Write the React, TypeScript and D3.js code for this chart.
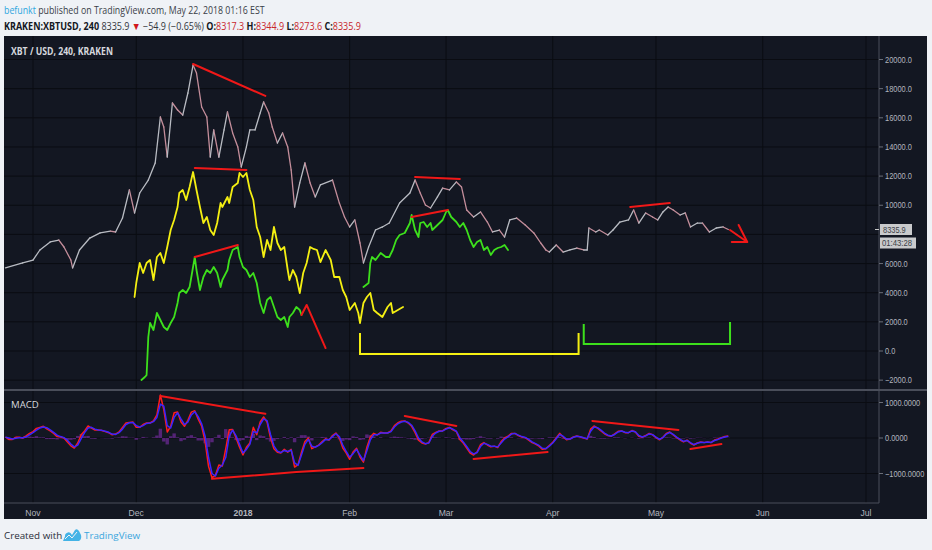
import React, { useLayoutEffect, useRef, useState } from 'react';
import * as d3 from 'd3';

const parse = d3.timeParse('%Y-%m-%d %H');

// XBT/USD 4h closes
const priceSeries: [string, number][] = [
  ['2017-10-24 00', 5700], ['2017-10-29 00', 6040], ['2017-11-01 00', 6240], ['2017-11-03 00', 6930],
  ['2017-11-06 00', 7480], ['2017-11-08 12', 7615], ['2017-11-10 00', 7135], ['2017-11-12 00', 6240],
  ['2017-11-12 12', 5700], ['2017-11-14 12', 6930], ['2017-11-17 12', 7750], ['2017-11-20 12', 8100],
  ['2017-11-23 12', 8230], ['2017-11-25 00', 8165], ['2017-11-27 00', 9125], ['2017-11-29 00', 11050],
  ['2017-11-30 12', 9470], ['2017-12-02 00', 10840], ['2017-12-04 12', 11730], ['2017-12-06 12', 12900],
  ['2017-12-08 00', 16055], ['2017-12-09 00', 15370], ['2017-12-10 00', 13310], ['2017-12-11 12', 17015],
  ['2017-12-13 00', 16535], ['2017-12-14 12', 16190], ['2017-12-16 00', 17700], ['2017-12-17 12', 19620],
  ['2017-12-18 12', 19070], ['2017-12-20 00', 16740], ['2017-12-21 12', 16055], ['2017-12-22 12', 13310],
  ['2017-12-23 12', 15165], ['2017-12-25 00', 13310], ['2017-12-26 12', 15165], ['2017-12-27 12', 16400],
  ['2017-12-29 00', 14960], ['2017-12-30 12', 14000], ['2017-12-31 12', 12625], ['2018-01-02 00', 14000],
  ['2018-01-03 00', 15165], ['2018-01-04 12', 15165], ['2018-01-06 00', 16330], ['2018-01-07 00', 17085],
  ['2018-01-08 12', 16330], ['2018-01-09 12', 15370], ['2018-01-11 00', 14270], ['2018-01-12 12', 14960],
  ['2018-01-14 00', 14000], ['2018-01-15 00', 12420], ['2018-01-16 00', 9880], ['2018-01-17 12', 11530],
  ['2018-01-19 00', 12900], ['2018-01-20 12', 11530], ['2018-01-22 00', 10570], ['2018-01-23 12', 11400],
  ['2018-01-27 00', 11730], ['2018-01-29 00', 10150], ['2018-01-30 12', 9195], ['2018-02-01 00', 8510],
  ['2018-02-02 12', 8990], ['2018-02-04 00', 7410], ['2018-02-05 00', 6040], ['2018-02-06 12', 7135],
  ['2018-02-08 12', 8300], ['2018-02-10 12', 8510], ['2018-02-12 12', 8780], ['2018-02-15 12', 10150],
  ['2018-02-18 12', 10840], ['2018-02-20 00', 11730], ['2018-02-21 12', 10840], ['2018-02-23 00', 10020],
  ['2018-02-24 12', 9810], ['2018-02-26 12', 10570], ['2018-02-28 00', 11180], ['2018-03-02 00', 11050],
  ['2018-03-04 00', 11600], ['2018-03-05 12', 11250], ['2018-03-07 00', 9670], ['2018-03-09 00', 9195],
  ['2018-03-11 00', 9540], ['2018-03-13 00', 8850], ['2018-03-14 12', 8165], ['2018-03-16 12', 8300],
  ['2018-03-18 00', 7820], ['2018-03-19 12', 8990], ['2018-03-21 12', 9125], ['2018-03-24 00', 8645],
  ['2018-03-26 12', 8100], ['2018-03-28 12', 7410], ['2018-03-30 00', 6930], ['2018-03-31 00', 6790],
  ['2018-04-02 00', 7270], ['2018-04-04 00', 6790], ['2018-04-06 00', 6930], ['2018-04-08 00', 7065],
  ['2018-04-10 00', 6930], ['2018-04-11 00', 6930], ['2018-04-11 12', 8440], ['2018-04-13 12', 8165],
  ['2018-04-14 12', 8300], ['2018-04-17 00', 7960], ['2018-04-18 12', 8300], ['2018-04-20 12', 8850],
  ['2018-04-23 00', 8990], ['2018-04-24 12', 9670], ['2018-04-26 00', 8780], ['2018-04-28 00', 9470],
  ['2018-04-30 00', 9195], ['2018-05-01 12', 8990], ['2018-05-03 00', 9540], ['2018-05-04 12', 9880],
  ['2018-05-06 00', 9670], ['2018-05-08 00', 9330], ['2018-05-09 12', 9470], ['2018-05-11 00', 8510],
  ['2018-05-13 00', 8780], ['2018-05-14 12', 8780], ['2018-05-16 12', 8165], ['2018-05-18 12', 8440],
  ['2018-05-20 12', 8510], ['2018-05-22 00', 8336],
];

// hand drawn fractal copies
const yellowCopy: [string, number][] = [
  ['2017-11-30 12', 3705], ['2017-12-01 00', 4665], ['2017-12-02 00', 6038], ['2017-12-03 00', 5352],
  ['2017-12-04 00', 6038], ['2017-12-05 00', 6243], ['2017-12-06 00', 4871], ['2017-12-07 00', 6449],
  ['2017-12-08 00', 6724], ['2017-12-09 00', 6038], ['2017-12-10 00', 7135], ['2017-12-11 00', 8302],
  ['2017-12-12 00', 8988], ['2017-12-13 00', 9880], ['2017-12-13 12', 10840], ['2017-12-14 12', 11046],
  ['2017-12-15 12', 10360], ['2017-12-16 12', 11252], ['2017-12-17 12', 12281], ['2017-12-18 12', 11046],
  ['2017-12-19 12', 9880], ['2017-12-20 12', 8782], ['2017-12-21 12', 9194], ['2017-12-22 12', 8302],
  ['2017-12-23 12', 7959], ['2017-12-24 12', 8782], ['2017-12-25 12', 10154], ['2017-12-26 00', 9880],
  ['2017-12-27 12', 10566], ['2017-12-28 00', 10154], ['2017-12-29 00', 11252], ['2017-12-30 12', 11526],
  ['2017-12-31 00', 12213], ['2018-01-01 00', 11938], ['2018-01-02 00', 12213], ['2018-01-03 00', 11046],
  ['2018-01-04 00', 10360], ['2018-01-05 00', 8508], ['2018-01-06 00', 7822], ['2018-01-07 00', 6449],
  ['2018-01-08 00', 7616], ['2018-01-09 00', 6930], ['2018-01-10 00', 8508], ['2018-01-11 00', 7410],
  ['2018-01-12 00', 6930], ['2018-01-13 00', 7135], ['2018-01-14 00', 5557], ['2018-01-14 12', 4871],
  ['2018-01-15 12', 5557], ['2018-01-16 12', 5077], ['2018-01-17 12', 3979], ['2018-01-18 12', 5352],
  ['2018-01-19 12', 6038], ['2018-01-20 12', 7135], ['2018-01-21 12', 7000], ['2018-01-22 12', 6930],
  ['2018-01-23 12', 6100], ['2018-01-25 00', 6930], ['2018-01-26 12', 6243], ['2018-01-27 12', 5077],
  ['2018-01-29 00', 5077], ['2018-01-30 00', 4185], ['2018-01-31 00', 3705], ['2018-02-01 00', 2813],
  ['2018-02-02 12', 3293], ['2018-02-03 12', 2607], ['2018-02-04 00', 1921], ['2018-02-05 00', 3293],
  ['2018-02-06 00', 3705], ['2018-02-07 00', 3979], ['2018-02-08 00', 2813], ['2018-02-09 00', 2607],
  ['2018-02-10 12', 2333], ['2018-02-12 00', 3019], ['2018-02-13 00', 3293], ['2018-02-13 12', 2607],
  ['2018-02-15 00', 2813], ['2018-02-16 12', 3019],
];

const greenCopyDec: [string, number][] = [
  ['2017-12-02 12', -1990], ['2017-12-03 12', -1784], ['2017-12-04 00', -1650], ['2017-12-04 12', 960],
  ['2017-12-05 00', 1921], ['2017-12-06 00', 1441], ['2017-12-07 00', 2607], ['2017-12-08 00', 2127],
  ['2017-12-09 00', 1647], ['2017-12-10 00', 1441], ['2017-12-11 00', 1921], ['2017-12-12 00', 2333],
  ['2017-12-13 00', 3293], ['2017-12-13 12', 3979], ['2017-12-14 12', 4185], ['2017-12-15 12', 3979],
  ['2017-12-16 12', 4391], ['2017-12-18 00', 6449], ['2017-12-18 12', 5557], ['2017-12-19 12', 4185],
  ['2017-12-20 12', 5077], ['2017-12-21 12', 5557], ['2017-12-22 12', 5352], ['2017-12-23 12', 5763],
  ['2017-12-24 12', 5352], ['2017-12-25 12', 4391], ['2017-12-26 00', 4871], ['2017-12-27 12', 5557],
  ['2017-12-28 00', 6243], ['2017-12-29 00', 6930], ['2017-12-30 12', 7135], ['2017-12-31 00', 6449],
  ['2018-01-01 00', 5763], ['2018-01-02 00', 5557], ['2018-01-03 00', 5077], ['2018-01-04 00', 5352],
  ['2018-01-05 00', 4665], ['2018-01-06 00', 3293], ['2018-01-07 00', 2607], ['2018-01-08 00', 3499],
  ['2018-01-09 00', 3705], ['2018-01-10 00', 3019], ['2018-01-11 00', 2333], ['2018-01-12 00', 2127],
  ['2018-01-13 00', 2333], ['2018-01-14 00', 1647], ['2018-01-14 12', 2333], ['2018-01-15 12', 2607],
  ['2018-01-16 12', 3019], ['2018-01-17 12', 2813], ['2018-01-18 00', 2470],
];

const greenCopyFeb: [string, number][] = [
  ['2018-02-05 00', 4391], ['2018-02-06 12', 4665], ['2018-02-07 00', 6038], ['2018-02-07 12', 6449],
  ['2018-02-08 12', 6243], ['2018-02-10 00', 6724], ['2018-02-11 12', 6449], ['2018-02-12 12', 6449],
  ['2018-02-13 12', 6930], ['2018-02-14 12', 7616], ['2018-02-15 12', 7959], ['2018-02-17 00', 8096],
  ['2018-02-18 12', 8782], ['2018-02-19 00', 9331], ['2018-02-20 00', 8302], ['2018-02-21 00', 7822],
  ['2018-02-21 12', 8782], ['2018-02-22 12', 8851], ['2018-02-23 12', 8508], ['2018-02-24 12', 8782],
  ['2018-02-25 00', 8302], ['2018-02-26 12', 8645], ['2018-02-28 00', 8988], ['2018-03-01 00', 9537],
  ['2018-03-01 12', 9674], ['2018-03-02 12', 9194], ['2018-03-04 00', 8851], ['2018-03-05 00', 8508],
  ['2018-03-06 00', 8782], ['2018-03-07 00', 8302], ['2018-03-08 00', 7616], ['2018-03-09 00', 7135],
  ['2018-03-10 00', 7478], ['2018-03-11 00', 7616], ['2018-03-12 00', 6930], ['2018-03-13 00', 7135],
  ['2018-03-14 00', 6587], ['2018-03-15 00', 6930], ['2018-03-16 00', 7067], ['2018-03-17 00', 7135],
  ['2018-03-18 00', 7273], ['2018-03-19 00', 6930],
];

// MACD, one value per day starting macdStart
const macdStart = '2017-10-24 00';
const macdLine = [
  28, -40, -40, 20, 20, 0, 60, 130,
  180, 270, 300, 330, 260, 200, 130, 40, 28, 0,
  -113, -220, -282, -141, 90, 200, 338, 280, 225, 225,
  210, 180, 150, 90, 110, 169, 300, 423, 440, 451,
  300, 300, 380, 423, 423, 480, 650, 1211, 800, 169,
  330, 710, 730, 450, 330, 500, 730, 770, 530, 330,
  -100, -800, -1120, -1050, -760, -790, -300, 230, 240, 0,
  -260, -479, -260, -141, 300, 90, 451, 592, 451, 0,
  -300, -400, -420, -320, -400, -320, -820, -750, -400, -100,
  0, -300, -250, -200, -100, -20, -60, 70, 141, 0,
  -282, -423, -600, -394, -290, -535, -680, -260, 28, 130,
  85, 160, 141, 141, 200, 350, 430, 470, 480, 423,
  330, 150, -60, -141, -170, -130, 100, 160, 200, 200,
  270, 300, 230, 180, -40, -141, -282, -423, -479, -394,
  -190, -130, -197, -250, -230, -270, -100, 0, 50, 130,
  130, 70, 28, 10, -60, -130, -170, -230, -320, -300,
  -210, -120, 0, 130, 28, -50, -28, 28, 56, 28,
  0, -28, 250, 340, 280, 200, 120, 70, 50, 120,
  190, 200, 150, 150, 210, 170, 50, 20, 70, 130,
  90, 10, -50, 20, 130, 169, 85, 10, -56, -110,
  -60, -150, -197, -141, -113, -130, -113, -130, -56, -30,
  10, 40, 56,
];
const signalLine = [
  20, 0, -30, -10, 10, 10, 30, 90,
  150, 220, 280, 310, 290, 230, 160, 80, 40, 10,
  -60, -170, -250, -200, -20, 150, 280, 300, 250, 225,
  215, 190, 160, 110, 100, 150, 250, 380, 430, 440,
  350, 310, 350, 410, 420, 460, 580, 950, 900, 350,
  280, 580, 710, 540, 380, 450, 650, 740, 600, 400,
  50, -550, -1000, -1070, -850, -760, -550, 50, 220, 60,
  -180, -420, -320, -180, 180, 150, 380, 540, 490, 100,
  -220, -370, -410, -350, -380, -340, -700, -770, -480, -180,
  -40, -230, -260, -210, -130, -40, -50, 40, 120, 40,
  -200, -380, -540, -440, -320, -480, -640, -360, -50, 90,
  90, 140, 140, 140, 180, 310, 400, 450, 470, 440,
  360, 200, 0, -110, -160, -140, 50, 140, 190, 200,
  250, 290, 250, 190, 10, -110, -240, -380, -450, -410,
  -240, -150, -180, -230, -230, -250, -140, -30, 30, 110,
  130, 80, 40, 15, -40, -110, -160, -210, -290, -300,
  -230, -140, -20, 100, 50, -30, -30, 20, 50, 35,
  5, -20, 190, 310, 290, 220, 140, 80, 55, 100,
  170, 195, 160, 150, 200, 175, 70, 30, 60, 115,
  95, 25, -35, 10, 110, 155, 100, 25, -40, -95,
  -70, -130, -185, -150, -120, -125, -115, -125, -70, -40,
  0, 30, 50,
];

// annotations drawn by the author
const priceRedLines: [string, number][][] = [
  [['2017-12-17 12', 19690], ['2018-01-07 12', 17500]],
  [['2017-12-18 00', 12550], ['2018-01-02 00', 12420]],
  [['2017-12-18 00', 6450], ['2017-12-30 12', 7270]],
  [['2018-01-18 00', 2470], ['2018-01-19 12', 3160], ['2018-01-25 00', 200]],
  [['2018-02-20 00', 11940], ['2018-03-05 00', 11800]],
  [['2018-02-19 00', 9190], ['2018-03-01 12', 9670]],
  [['2018-04-23 12', 9880], ['2018-05-05 00', 10150]],
  [['2018-05-22 12', 8300], ['2018-05-27 12', 7480]],
  [['2018-05-25 00', 8650], ['2018-05-27 12', 7480], ['2018-05-23 00', 7480]],
];
const yellowBracket: [string, number][] = [
  ['2018-02-04 00', 1235], ['2018-02-04 00', -206], ['2018-04-08 12', -206], ['2018-04-08 12', 1235],
];
const greenBracket: [string, number][] = [
  ['2018-04-10 00', 1850], ['2018-04-10 00', 480], ['2018-05-22 12', 480], ['2018-05-22 12', 1990],
];
const macdRedLines: [string, number][][] = [
  [['2017-12-08 00', 1180], ['2018-01-07 12', 680]],
  [['2017-12-23 00', -1150], ['2018-01-16 12', -960], ['2018-02-05 00', -845]],
  [['2018-02-17 00', 620], ['2018-03-04 00', 340]],
  [['2018-03-09 00', -590], ['2018-03-30 12', -395]],
  [['2018-04-12 12', 480], ['2018-05-07 12', 225]],
  [['2018-05-11 00', -310], ['2018-05-20 00', -170]],
];

const priceTicks = [-2000, 0, 2000, 4000, 6000, 8000, 10000, 12000, 14000, 16000, 18000, 20000];
const macdTicks = [-1000, 0, 1000];
const monthTicks: [string, string][] = [
  ['2017-11-01 00', 'Nov'], ['2017-12-01 00', 'Dec'], ['2018-01-01 00', '2018'], ['2018-02-01 00', 'Feb'],
  ['2018-03-01 00', 'Mar'], ['2018-04-01 00', 'Apr'], ['2018-05-01 00', 'May'], ['2018-06-01 00', 'Jun'],
  ['2018-07-01 00', 'Jul'],
];
const lastPrice = 8335.9;

const FONT = '"Open Sans", "Liberation Sans", sans-serif';
const AXIS_FONT = '"Liberation Sans", Arial, sans-serif';

// the screenshot's axis digits are narrow, so fit each label to its width there
const labelWidth = (s: string) =>
  s.split('').reduce((w, c) => w + (c === '.' ? 2 : c === '-' || c === ':' ? 2.6 : 4.15), 0);

// squeezes its children horizontally so they end up `width` px wide
function FitX({ x, width, children }: { x: number; width: number; children: React.ReactNode }) {
  const ref = useRef<SVGGElement>(null);
  const [k, setK] = useState(1);
  useLayoutEffect(() => {
    if (!ref.current) return;
    const w = ref.current.getBBox().width;
    if (w > 0) setK(width / w);
  }, [width]);
  return (
    <g transform={`translate(${x},0) scale(${k},1)`}>
      <g ref={ref}>{children}</g>
    </g>
  );
}

export default function App() {
  const W = 932;
  const H = 550;
  const left = 4, right = 927, top = 36, bottom = 519;
  const axisX = 879, sepY = 390, timeY = 503;

  const x = d3.scaleTime()
    .domain([parse('2017-11-01 00') as Date, parse('2018-07-01 00') as Date])
    .range([33, 866]);
  const yP = d3.scaleLinear().domain([0, 20000]).range([351, 59.5]);
  const yM = d3.scaleLinear().domain([0, 1000]).range([438, 402.5]);

  const pLine = d3.line<[string, number]>()
    .x(d => x(parse(d[0]) as Date))
    .y(d => yP(d[1]));
  const mLine = d3.line<[string, number]>()
    .x(d => x(parse(d[0]) as Date))
    .y(d => yM(d[1]));

  const t0 = parse(macdStart) as Date;
  const macdDates = macdLine.map((_, i) => d3.timeDay.offset(t0, i));
  const macdPath = d3.line<number>()
    .x((_, i) => x(macdDates[i]))
    .y(d => yM(d));

  const priceSegs = priceSeries.slice(1).map((p, i) => ({
    a: priceSeries[i],
    b: p,
    up: p[1] >= priceSeries[i][1],
  }));

  const bg = '#131722';
  const grid = '#0a0c12';
  const axisText = '#b2b5be';
  const fmtP = d3.format('.1f');
  const fmtM = d3.format('.4f');

  return (
    <svg width={W} height={H} style={{ position: 'absolute', left: 0, top: 0, background: '#eff2f6' }}>
      <defs>
        <clipPath id="pricePane">
          <rect x={left} y={top} width={axisX - left} height={sepY - top} />
        </clipPath>
        <clipPath id="macdPane">
          <rect x={left} y={sepY + 1} width={axisX - left} height={timeY - sepY - 1} />
        </clipPath>
      </defs>

      {/* header */}
      <FitX x={4} width={261}>
        <text x={0} y={14} fontFamily={FONT} fontSize={10.4} fill="#3a3e48">
          <tspan fill="#2ea6de">befunkt</tspan> published on TradingView.com, May 22, 2018 01:16 EST
        </text>
      </FitX>
      <FitX x={4} width={357}>
        <text x={0} y={30} fontFamily={FONT} fontSize={10.4} fill="#333740">
          <tspan fontWeight="bold" fill="#131722">KRAKEN:XBTUSD, 240</tspan>
          <tspan> 8335.9 </tspan>
          <tspan fill="#d0161b">▼</tspan>
          <tspan> −54.9 (−0.65%) </tspan>
          <tspan fontWeight="bold" fill="#131722">O:</tspan><tspan fill="#c8262c">8317.3</tspan>
          <tspan fontWeight="bold" fill="#131722"> H:</tspan><tspan fill="#c8262c">8344.9</tspan>
          <tspan fontWeight="bold" fill="#131722"> L:</tspan><tspan fill="#c8262c">8273.6</tspan>
          <tspan fontWeight="bold" fill="#131722"> C:</tspan><tspan fill="#c8262c">8335.9</tspan>
        </text>
      </FitX>

      {/* chart body */}
      <rect x={left} y={top} width={right - left} height={bottom - top} fill={bg} />

      {/* grid */}
      {priceTicks.map(v => (
        <line key={'pg' + v} x1={left} x2={axisX} y1={yP(v)} y2={yP(v)} stroke={grid} strokeWidth={1} />
      ))}
      {macdTicks.map(v => (
        <line key={'mg' + v} x1={left} x2={axisX} y1={yM(v)} y2={yM(v)} stroke={grid} strokeWidth={1} />
      ))}
      {monthTicks.map(([d]) => (
        <line key={'vg' + d} x1={x(parse(d) as Date)} x2={x(parse(d) as Date)} y1={top} y2={timeY}
          stroke={grid} strokeWidth={1} />
      ))}

      {/* price pane */}
      <g clipPath="url(#pricePane)" fill="none" strokeLinejoin="round" strokeLinecap="round">
        {priceSegs.map((s, i) => (
          <path key={'ps' + i} d={pLine([s.a, s.b]) || ''} stroke={s.up ? '#b9bcc3' : '#c48e9b'} strokeWidth={1.3} />
        ))}
        <path d={pLine(yellowCopy) || ''} stroke="#f4ef12" strokeWidth={1.8} />
        <path d={pLine(greenCopyDec) || ''} stroke="#3de01c" strokeWidth={1.8} />
        <path d={pLine(greenCopyFeb) || ''} stroke="#3de01c" strokeWidth={1.8} />
        {priceRedLines.map((pts, i) => (
          <path key={'pr' + i} d={pLine(pts) || ''} stroke="#f01818" strokeWidth={2} />
        ))}
        <path d={pLine(yellowBracket) || ''} stroke="#f4ef12" strokeWidth={2} strokeLinecap="butt" strokeLinejoin="miter" />
        <path d={pLine(greenBracket) || ''} stroke="#3de01c" strokeWidth={2} strokeLinecap="butt" strokeLinejoin="miter" />
      </g>
      <FitX x={11} width={102}>
        <text x={0} y={55} fontFamily={FONT} fontSize={9.8} fontWeight="bold" fill="#d6d8de">XBT / USD, 240, KRAKEN</text>
      </FitX>

      {/* MACD pane */}
      <g clipPath="url(#macdPane)" fill="none" strokeLinejoin="round">
        {macdLine.map((v, i) => {
          const h = v - signalLine[i];
          return (
            <rect key={'h' + i} x={x(macdDates[i]) - 1.7} width={3.4}
              y={Math.min(yM(0), yM(h))} height={Math.abs(yM(h) - yM(0))}
              fill="#6b2a93" opacity={0.75} />
          );
        })}
        <path d={macdPath(macdLine) || ''} stroke="#ff1c1c" strokeWidth={1.5} />
        <path d={macdPath(signalLine) || ''} stroke="#3a25ff" strokeWidth={1.5} />
        {macdRedLines.map((pts, i) => (
          <path key={'mr' + i} d={mLine(pts) || ''} stroke="#f01818" strokeWidth={2} strokeLinecap="round" />
        ))}
      </g>
      <text x={11} y={408} fontFamily={FONT} fontSize={9.6} fill="#d6d8de">MACD</text>

      {/* axes */}
      <line x1={left} x2={right} y1={sepY} y2={sepY} stroke="#4a4e5a" strokeWidth={2} />
      <line x1={axisX} x2={axisX} y1={top} y2={timeY} stroke="#4a4e5a" strokeWidth={1} />
      <line x1={left} x2={axisX} y1={timeY} y2={timeY} stroke="#4a4e5a" strokeWidth={1} />

      {priceTicks.filter(v => v !== 8000).map(v => (
        <g key={'pt' + v}>
          <line x1={axisX} x2={axisX + 4} y1={yP(v)} y2={yP(v)} stroke="#6a6e78" />
          <text x={axisX + 6} y={yP(v)} dy="0.35em" fontFamily={AXIS_FONT} fontSize={8.6} fill={axisText}
            textLength={labelWidth(fmtP(v))} lengthAdjust="spacingAndGlyphs">
            {fmtP(v)}
          </text>
        </g>
      ))}
      {macdTicks.map(v => (
        <g key={'mt' + v}>
          <line x1={axisX} x2={axisX + 4} y1={yM(v)} y2={yM(v)} stroke="#6a6e78" />
          <text x={axisX + 6} y={yM(v)} dy="0.35em" fontFamily={AXIS_FONT} fontSize={8.6} fill={axisText}
            textLength={labelWidth(fmtM(v))} lengthAdjust="spacingAndGlyphs">
            {fmtM(v)}
          </text>
        </g>
      ))}
      {monthTicks.map(([d, label]) => (
        <text key={'mx' + d} x={x(parse(d) as Date)} y={516} textAnchor="middle" fontFamily={AXIS_FONT}
          fontSize={8.6} fontWeight={label === '2018' ? 'bold' : 'normal'} fill={axisText}>
          {label}
        </text>
      ))}

      {/* last price label */}
      <line x1={axisX - 4} x2={axisX} y1={yP(lastPrice)} y2={yP(lastPrice)} stroke="#c8c8c8" />
      <rect x={axisX + 1} y={yP(lastPrice) - 5.5} width={32} height={11} fill="#c9cacc" />
      <text x={axisX + 4} y={yP(lastPrice)} dy="0.35em" fontFamily={AXIS_FONT} fontSize={8.6} fill="#3b3e46"
        textLength={labelWidth(fmtP(lastPrice))} lengthAdjust="spacingAndGlyphs">
        {fmtP(lastPrice)}
      </text>
      <rect x={axisX + 1} y={yP(lastPrice) + 8} width={36} height={11} fill="#c9cacc" />
      <text x={axisX + 3} y={yP(lastPrice) + 13.5} dy="0.35em" fontFamily={AXIS_FONT} fontSize={8.6} fill="#3b3e46"
        textLength={labelWidth('01:43:28')} lengthAdjust="spacingAndGlyphs">
        01:43:28
      </text>

      {/* footer */}
      <text x={4} y={539} fontFamily={FONT} fontSize={9.8} fill="#2a2e39">Created with</text>
      <g fill="#43b3e6">
        <path d="M63 541 L66 534 Q68 531 70.5 533 L72 535 L75 530 Q77 528 79 531 L81 535 Q82 539 79 541 Z" />
        <circle cx={68} cy={536} r={3} />
      </g>
      <path d="M65 539 L69 535 L72 538 L77 532" fill="none" stroke="#eff2f6" strokeWidth={1} />
      <text x={84} y={539} fontFamily={FONT} fontSize={9.8} fill="#3ba6dd">TradingView</text>
    </svg>
  );
}
